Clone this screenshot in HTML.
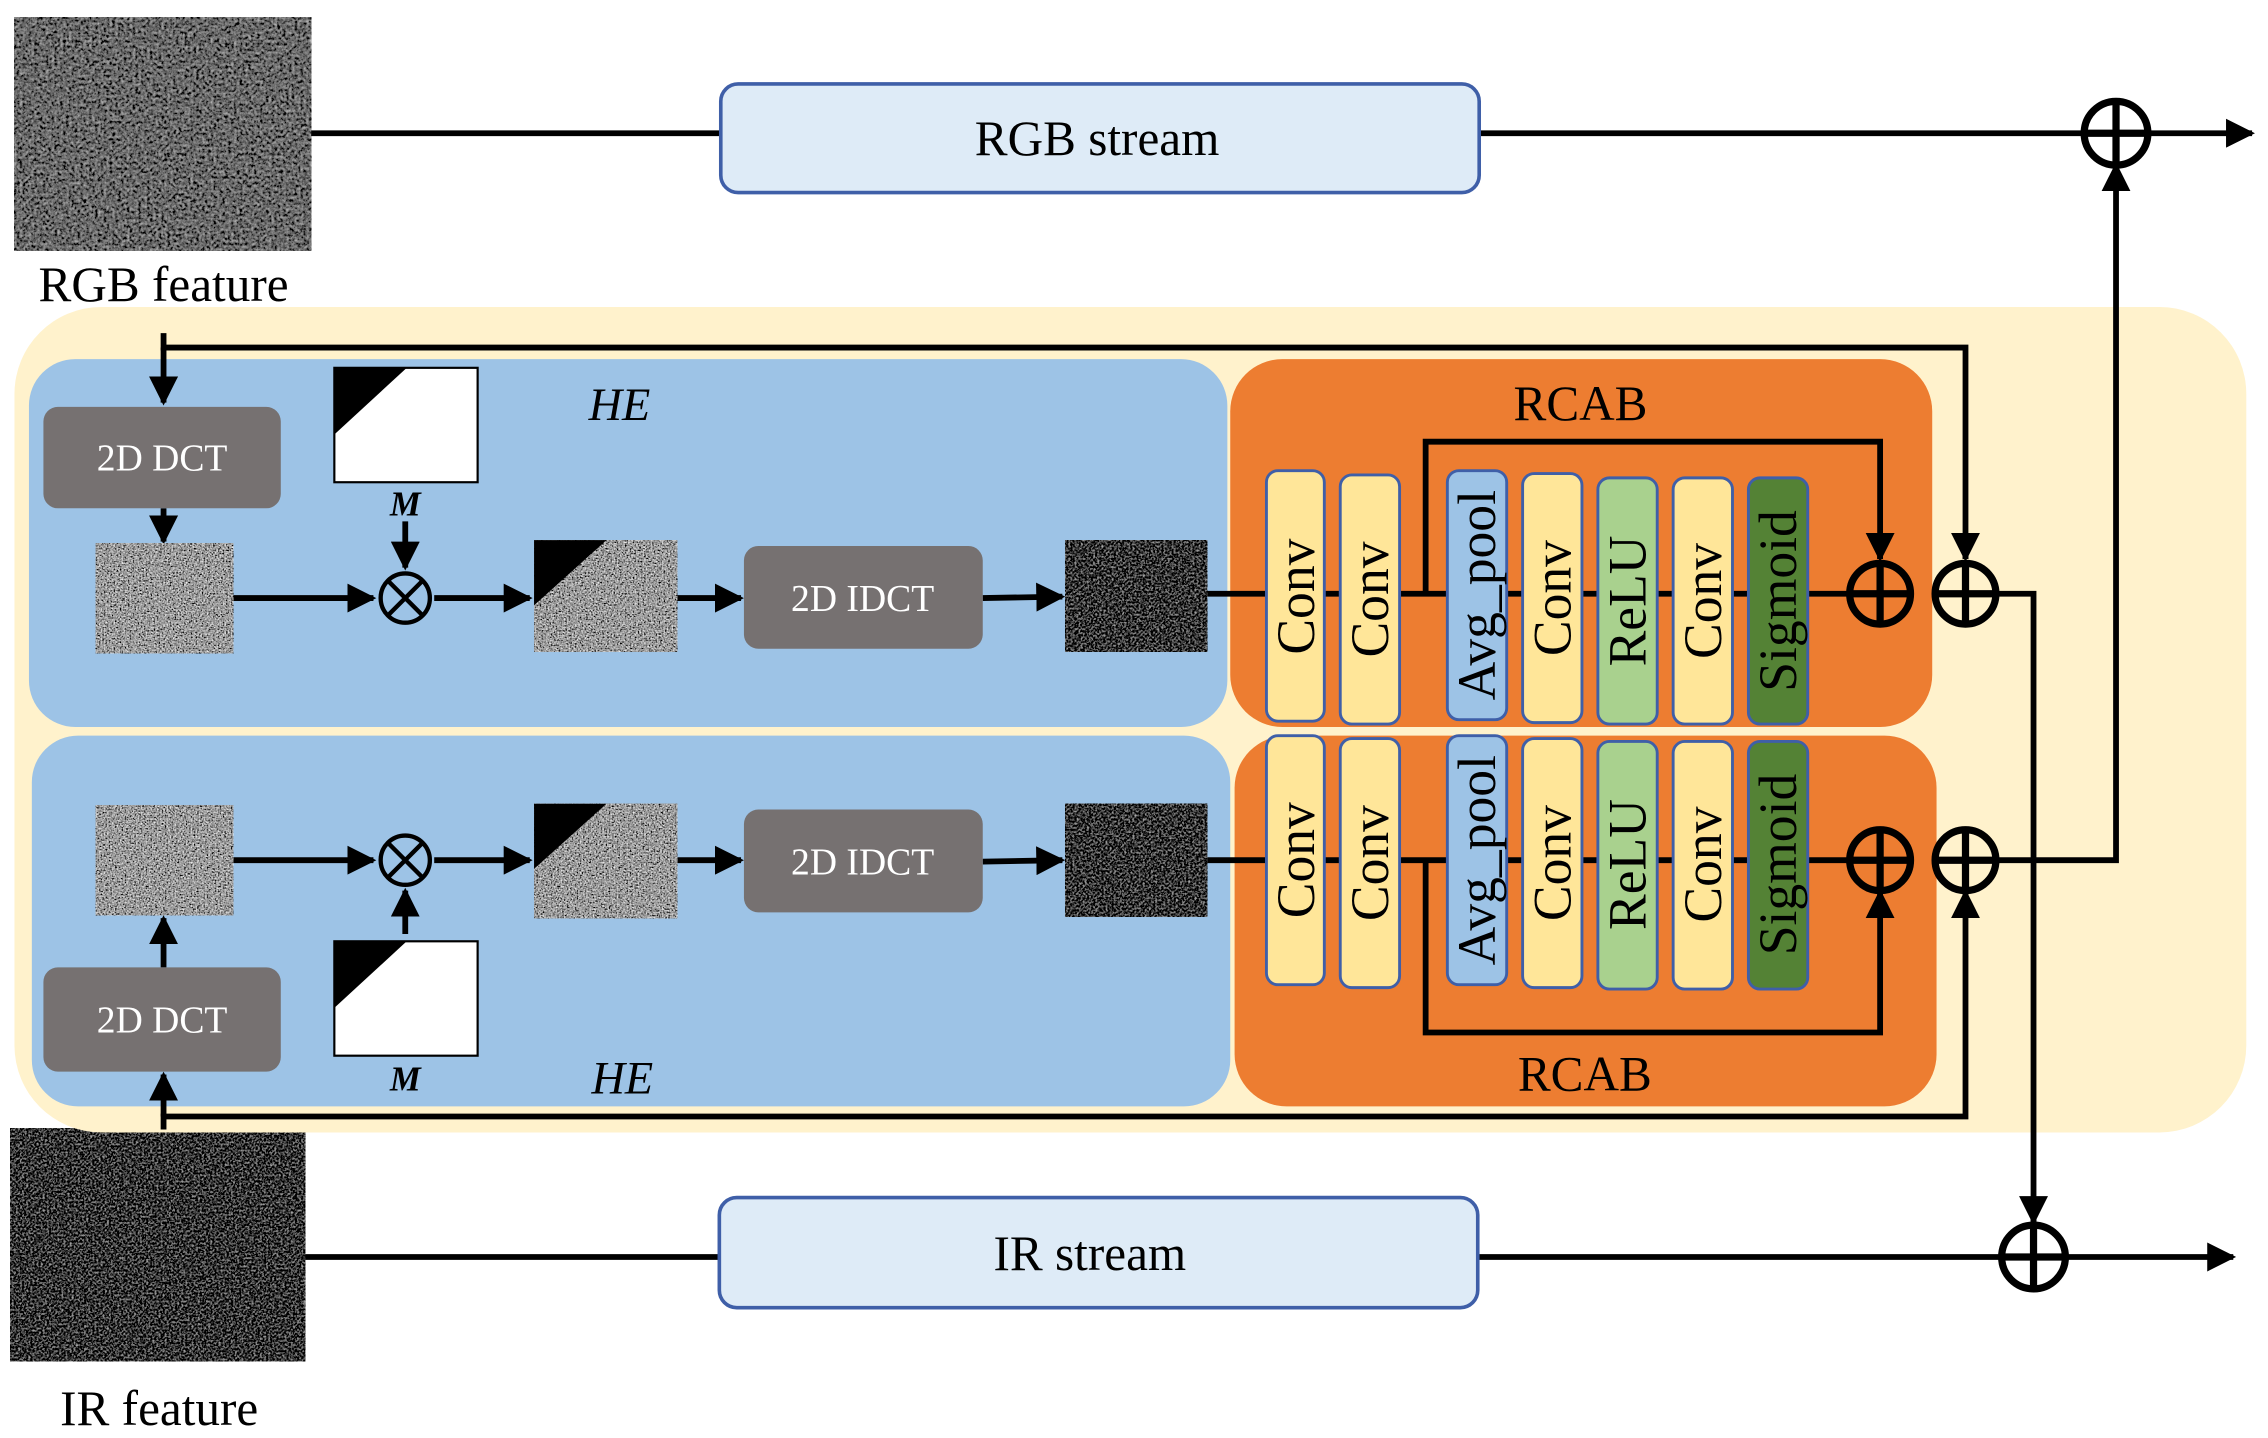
<!DOCTYPE html>
<html><head><meta charset="utf-8"><style>html,body{margin:0;padding:0;background:#fff}svg{display:block}</style></head>
<body>
<svg width="2268" height="1438" viewBox="0 0 1567 993" preserveAspectRatio="none" xmlns="http://www.w3.org/2000/svg" font-family="Liberation Serif, serif">
<defs>
<filter id="nz" x="0" y="0" width="1" height="1" filterUnits="objectBoundingBox"><feTurbulence type="fractalNoise" baseFrequency="0.9" numOctaves="2" seed="3"/><feColorMatrix type="matrix" values="0.33 0.33 0.33 0 0  0.33 0.33 0.33 0 0  0.33 0.33 0.33 0 0  0 0 0 0 1"/><feComponentTransfer><feFuncR type="linear" slope="2.6" intercept="-0.95"/><feFuncG type="linear" slope="2.6" intercept="-0.95"/><feFuncB type="linear" slope="2.6" intercept="-0.95"/></feComponentTransfer></filter>
<filter id="dk" x="0" y="0" width="1" height="1" filterUnits="objectBoundingBox"><feTurbulence type="fractalNoise" baseFrequency="0.7" numOctaves="2" seed="7"/><feColorMatrix type="matrix" values="0.33 0.33 0.33 0 0  0.33 0.33 0.33 0 0  0.33 0.33 0.33 0 0  0 0 0 0 1"/><feComponentTransfer><feFuncR type="linear" slope="1.6" intercept="-0.75"/><feFuncG type="linear" slope="1.6" intercept="-0.75"/><feFuncB type="linear" slope="1.6" intercept="-0.75"/></feComponentTransfer></filter>
<filter id="fe" x="0" y="0" width="1" height="1" filterUnits="objectBoundingBox"><feTurbulence type="fractalNoise" baseFrequency="0.5" numOctaves="3" seed="11"/><feColorMatrix type="matrix" values="0.33 0.33 0.33 0 0  0.33 0.33 0.33 0 0  0.33 0.33 0.33 0 0  0 0 0 0 1"/><feComponentTransfer><feFuncR type="linear" slope="1.2" intercept="-0.45"/><feFuncG type="linear" slope="1.2" intercept="-0.45"/><feFuncB type="linear" slope="1.2" intercept="-0.45"/></feComponentTransfer></filter>
<marker id="ar" viewBox="0 0 10 10" refX="9" refY="5" markerWidth="5" markerHeight="5" orient="auto" markerUnits="strokeWidth"><path d="M0,0 L10,5 L0,10 z" fill="#000"/></marker>
</defs>

<rect x="10" y="12" width="205" height="161" filter="url(#fe)"/>
<text x="113" y="208" font-size="34" text-anchor="middle">RGB feature</text>
<rect x="7" y="779" width="204" height="161" filter="url(#dk)"/>
<text x="110" y="984" font-size="34" text-anchor="middle">IR feature</text>

<rect x="10" y="212" width="1542" height="570" rx="60" fill="#fff2cc"/>
<rect x="20" y="248" width="828" height="254" rx="32" fill="#9dc3e6"/>
<rect x="22" y="508" width="828" height="256" rx="32" fill="#9dc3e6"/>
<rect x="850" y="248" width="485" height="254" rx="36" fill="#ed7d31"/>
<rect x="853" y="508" width="485" height="256" rx="36" fill="#ed7d31"/>

<text x="428" y="290" font-size="32" font-style="italic" text-anchor="middle">HE</text>
<text x="430" y="755" font-size="32" font-style="italic" text-anchor="middle">HE</text>
<text x="1092" y="290" font-size="34" text-anchor="middle">RCAB</text>
<text x="1095" y="753" font-size="34" text-anchor="middle">RCAB</text>

<g stroke="#000" stroke-width="4" fill="none">
<line x1="215" y1="92" x2="498" y2="92"/>
<line x1="1022" y1="92" x2="1440" y2="92"/>
<line x1="1484" y1="92" x2="1556" y2="92" marker-end="url(#ar)"/>
<line x1="211" y1="868" x2="497" y2="868"/>
<line x1="1021" y1="868" x2="1383" y2="868"/>
<line x1="1427" y1="868" x2="1543" y2="868" marker-end="url(#ar)"/>
</g>
<rect x="498" y="58" width="524" height="75" rx="12" fill="#deebf7" stroke="#3f5fa8" stroke-width="2.5"/>
<text x="758" y="107" font-size="34" text-anchor="middle">RGB stream</text>
<rect x="497" y="827" width="524" height="76" rx="12" fill="#deebf7" stroke="#3f5fa8" stroke-width="2.5"/>
<text x="753" y="877" font-size="34" text-anchor="middle">IR stream</text>

<g stroke="#000" stroke-width="4" fill="none">
<polyline points="113,230 113,240 1358,240 1358,386" />
<line x1="1358" y1="380" x2="1358" y2="386" marker-end="url(#ar)"/>
<line x1="113" y1="240" x2="113" y2="278" marker-end="url(#ar)"/>
<line x1="113" y1="351" x2="113" y2="374" marker-end="url(#ar)"/>
<line x1="161" y1="413" x2="258" y2="413" marker-end="url(#ar)"/>
<line x1="280" y1="360" x2="280" y2="392" marker-end="url(#ar)"/>
<line x1="300" y1="413" x2="366" y2="413" marker-end="url(#ar)"/>
<line x1="468" y1="413" x2="512" y2="413" marker-end="url(#ar)"/>
<line x1="679" y1="413" x2="734" y2="412" marker-end="url(#ar)"/>
<line x1="834" y1="410" x2="1277" y2="410"/>
<polyline points="985,410 985,305 1299,305 1299,386"/>
<line x1="1299" y1="380" x2="1299" y2="386" marker-end="url(#ar)"/>
<polyline points="1380,410 1405,410 1405,844"/>
<line x1="1405" y1="838" x2="1405" y2="844" marker-end="url(#ar)"/>

<line x1="161" y1="594" x2="258" y2="594" marker-end="url(#ar)"/>
<line x1="280" y1="645" x2="280" y2="615" marker-end="url(#ar)"/>
<line x1="300" y1="594" x2="366" y2="594" marker-end="url(#ar)"/>
<line x1="468" y1="594" x2="512" y2="594" marker-end="url(#ar)"/>
<line x1="679" y1="595" x2="734" y2="594" marker-end="url(#ar)"/>
<line x1="834" y1="594" x2="1277" y2="594"/>
<polyline points="985,594 985,713 1299,713 1299,616"/>
<line x1="1299" y1="622" x2="1299" y2="616" marker-end="url(#ar)"/>
<polyline points="113,780 113,771 1358,771 1358,616"/>
<line x1="1358" y1="622" x2="1358" y2="616" marker-end="url(#ar)"/>
<line x1="113" y1="771" x2="113" y2="742" marker-end="url(#ar)"/>
<line x1="113" y1="668" x2="113" y2="634" marker-end="url(#ar)"/>
<polyline points="1380,594 1462,594 1462,114"/>
<line x1="1462" y1="120" x2="1462" y2="114" marker-end="url(#ar)"/>
</g>

<g fill="#767171">
<rect x="30" y="281" width="164" height="70" rx="10"/>
<rect x="30" y="668" width="164" height="72" rx="10"/>
<rect x="514" y="377" width="165" height="71" rx="10"/>
<rect x="514" y="559" width="165" height="71" rx="10"/>
</g>
<g fill="#fff" font-size="26" text-anchor="middle">
<text x="112" y="325">2D DCT</text>
<text x="112" y="713">2D DCT</text>
<text x="596" y="422">2D IDCT</text>
<text x="596" y="604">2D IDCT</text>
</g>

<rect x="66" y="375" width="95" height="76" filter="url(#nz)"/>
<rect x="66" y="556" width="95" height="76" filter="url(#nz)"/>
<rect x="369" y="373" width="99" height="77" filter="url(#nz)"/>
<rect x="369" y="555" width="99" height="79" filter="url(#nz)"/>
<path d="M369,373 L419,373 L369,418 z" fill="#000"/>
<path d="M369,555 L419,555 L369,600 z" fill="#000"/>
<rect x="736" y="373" width="98" height="77" filter="url(#dk)"/>
<rect x="736" y="555" width="98" height="78" filter="url(#dk)"/>

<rect x="231" y="254" width="99" height="79" fill="#fff" stroke="#000" stroke-width="1.5"/>
<path d="M231,254 L281,254 L231,300 z" fill="#000"/>
<rect x="231" y="650" width="99" height="79" fill="#fff" stroke="#000" stroke-width="1.5"/>
<path d="M231,650 L281,650 L231,696 z" fill="#000"/>
<text x="280" y="356" font-size="24" font-style="italic" font-weight="bold" text-anchor="middle">M</text>
<text x="280" y="753" font-size="24" font-style="italic" font-weight="bold" text-anchor="middle">M</text>

<g stroke="#000" fill="none">
<g stroke-width="3"><circle cx="280" cy="413" r="17"/><path d="M268,401 L292,425 M292,401 L268,425"/>
<circle cx="280" cy="594" r="17"/><path d="M268,582 L292,606 M292,582 L268,606"/></g>
<g stroke-width="5">
<circle cx="1299" cy="410" r="21"/><path d="M1278,410 H1320 M1299,389 V431"/>
<circle cx="1358" cy="410" r="21"/><path d="M1337,410 H1379 M1358,389 V431"/>
<circle cx="1299" cy="594" r="21"/><path d="M1278,594 H1320 M1299,573 V615"/>
<circle cx="1358" cy="594" r="21"/><path d="M1337,594 H1379 M1358,573 V615"/>
<circle cx="1462" cy="92" r="22"/><path d="M1440,92 H1484 M1462,70 V114"/>
<circle cx="1405" cy="868" r="22"/><path d="M1383,868 H1427 M1405,846 V890"/>
</g>
</g>

<g stroke="#3f5fa8" stroke-width="2">
<rect x="875" y="325" width="40" height="173" rx="8" fill="#ffe699"/>
<rect x="926" y="328" width="41" height="172" rx="8" fill="#ffe699"/>
<rect x="1000" y="325" width="41" height="172" rx="8" fill="#9dc3e6"/>
<rect x="1052" y="327" width="41" height="172" rx="8" fill="#ffe699"/>
<rect x="1104" y="330" width="41" height="170" rx="8" fill="#a9d18e"/>
<rect x="1156" y="330" width="41" height="170" rx="8" fill="#ffe699"/>
<rect x="1208" y="330" width="41" height="170" rx="8" fill="#548235"/>
<rect x="875" y="508" width="40" height="172" rx="8" fill="#ffe699"/>
<rect x="926" y="510" width="41" height="172" rx="8" fill="#ffe699"/>
<rect x="1000" y="508" width="41" height="172" rx="8" fill="#9dc3e6"/>
<rect x="1052" y="510" width="41" height="172" rx="8" fill="#ffe699"/>
<rect x="1104" y="512" width="41" height="171" rx="8" fill="#a9d18e"/>
<rect x="1156" y="512" width="41" height="171" rx="8" fill="#ffe699"/>
<rect x="1208" y="512" width="41" height="171" rx="8" fill="#548235"/>
</g>
<g font-size="37" text-anchor="middle" fill="#000">
<text transform="translate(908,412) rotate(-90)">Conv</text>
<text transform="translate(959,414) rotate(-90)">Conv</text>
<text transform="translate(1033,411) rotate(-90)">Avg_pool</text>
<text transform="translate(1085,413) rotate(-90)">Conv</text>
<text transform="translate(1137,415) rotate(-90)">ReLU</text>
<text transform="translate(1189,415) rotate(-90)">Conv</text>
<text transform="translate(1241,415) rotate(-90)">Sigmoid</text>
<text transform="translate(908,594) rotate(-90)">Conv</text>
<text transform="translate(959,596) rotate(-90)">Conv</text>
<text transform="translate(1033,594) rotate(-90)">Avg_pool</text>
<text transform="translate(1085,596) rotate(-90)">Conv</text>
<text transform="translate(1137,597) rotate(-90)">ReLU</text>
<text transform="translate(1189,597) rotate(-90)">Conv</text>
<text transform="translate(1241,597) rotate(-90)">Sigmoid</text>
</g>
</svg>
</body></html>
